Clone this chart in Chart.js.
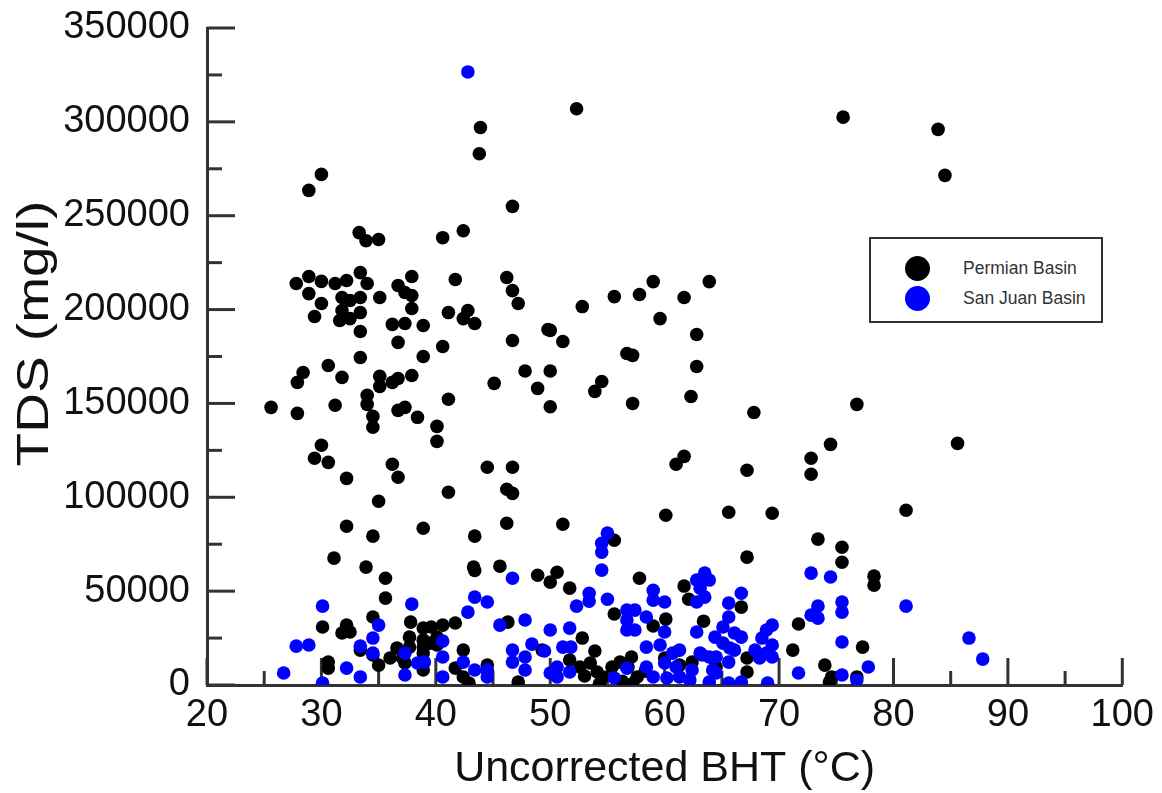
<!DOCTYPE html>
<html>
<head>
<meta charset="utf-8">
<script src="https://cdn.jsdelivr.net/npm/chart.js@4.4.1/dist/chart.umd.min.js"></script>
<style>
html,body{margin:0;padding:0;background:#fff;}
#wrap{position:relative;width:1162px;height:793px;}
#legend{position:absolute;left:869px;top:237px;width:230px;height:82px;border:2px solid #333;background:#fff;font-family:"Liberation Sans",Arial,sans-serif;font-size:17.5px;color:#333;}
.lg{position:absolute;left:0;display:flex;align-items:center;}
.lg .dot{width:25px;height:25px;border-radius:50%;margin-left:34px;margin-right:33px;}
</style>
</head>
<body>
<div id="wrap">
<canvas id="c" width="1162" height="793"></canvas>
<div id="legend">
  <div class="lg" style="top:17px"><div class="dot" style="background:#000"></div><span>Permian Basin</span></div>
  <div class="lg" style="top:47px"><div class="dot" style="background:#0000ff"></div><span>San Juan Basin</span></div>
</div>
</div>
<script>
// ── 데이터: [BHT °C, TDS mg/l] ──
const permianPoints=[
[52.3,307000],[43.9,297000],[43.8,283000],[28.9,263500],[30.0,272000],[46.7,255000],[75.6,302500],[83.9,296000],[84.5,271500],
[40.6,238300],[42.4,242000],[33.3,241000],[33.9,236700],[35.0,237300],
[27.8,213900],[28.9,217600],[30.0,215000],[28.9,208500],[30.0,203200],[29.4,196300],[31.2,213900],[32.2,215500],[33.4,219700],[34.0,213900],
[31.8,206400],[32.5,204800],[33.4,206400],[31.8,199500],[32.5,195200],[33.4,198400],[31.6,194200],[33.4,188300],[35.1,206400],[36.7,212800],
[37.9,217600],[37.3,209100],[37.9,207500],[37.9,200600],[36.2,192100],[37.3,192600],[38.9,191500],[41.7,216000],[46.2,217100],[46.7,210100],
[47.2,203200],[41.1,198400],[42.8,199500],[42.4,195200],[43.4,192600],[49.8,189400],[36.7,182500],[38.9,175000],[40.6,180300],[33.4,174500],
[46.7,183500],[28.4,166500],[27.9,161200],[30.6,170200],[31.8,163900],[35.1,164400],[35.1,159100],[36.2,161200],[36.7,163300],[37.9,164900],
[45.1,160700],[47.8,167300],[48.9,158000],[50.0,167300],[50.0,148200],
[25.6,147900],[27.9,144700],[31.2,149000],[34.0,154300],[34.0,149500],[34.5,143100],[34.5,137300],[36.7,146300],[37.3,147900],[38.4,142600],
[40.1,137800],[40.1,129800],[41.1,152200],[30.0,127700],[29.4,120800],[30.6,118600],[36.2,117600],[36.7,110700],[32.2,110100],[44.5,116000],
[46.7,116000],[46.2,104300],[46.7,102100],[41.1,102700],[35.0,97900],[32.2,84600],[38.9,83500],[46.2,86200],[34.5,79300],[43.4,79300],
[52.8,201600],[55.6,206900],[57.8,208000],[59.0,214900],[61.7,206400],[63.9,214900],[59.6,195200],[62.8,186700],[50.0,188900],[51.1,183000],
[56.7,176600],[57.2,175600],[62.8,169700],[54.5,161700],[53.9,156400],[57.2,150000],[62.3,153700],[67.8,145200],[61.7,121800],[61.0,117600],
[67.2,114400],[51.1,85600],[60.1,90400],[65.6,92000],[69.4,91500],
[76.8,149500],[74.5,128200],[72.8,120800],[72.8,112300],[81.1,93100],[85.6,128700],
[31.1,67600],[33.9,62800],[35.6,56900],[35.6,46300],[43.3,62800],[43.4,61000],[45.6,63300],[48.9,58500],[50.6,60100],[50.0,54800],
[51.7,51600],[55.6,77100],[57.8,56900],[61.7,52700],[62.1,45700],[55.6,37800],[46.3,33500],[59.0,31400],[60.1,35100],[63.4,34000],
[67.2,68100],[66.7,41500],[73.4,77700],[75.5,73400],[75.5,65400],[78.3,58000],[78.3,53200],[71.7,32500],
[30.1,30900],[32.2,31900],[31.8,27700],[32.5,28200],[34.5,36200],[37.8,33500],[38.9,30300],[39.6,30900],[40.6,31900],[41.7,33000],
[37.7,25500],[38.9,23900],[40.1,25500],[36.6,19700],[37.7,20200],[38.9,20200],[39.5,22300],[40.1,21300],[42.4,18600],[33.4,18600],
[34.5,16000],[35.0,10600],[30.6,12200],[30.6,9000],[36.0,14400],[37.1,14400],[37.3,11700],[38.9,8000],[38.9,17000],[41.7,9000],
[42.4,4300],[42.9,1100],[44.5,10600],[47.2,1600],
[52.8,25000],[53.9,18100],[49.3,18600],
[51.7,13300],[52.6,9600],[53.5,11700],[54.1,6900],[54.6,4300],[55.4,9600],[56.1,12200],[56.8,9600],[57.1,14900],[57.6,4300],
[53.0,4800],[56.3,2000],[58.3,7400],[54.3,600],[57.2,800],
[60.0,14400],[61.3,10600],[62.4,12200],[64.2,14400],[64.5,9600],
[67.2,14400],[67.2,6900],[71.2,18600],[77.3,20200],[74.0,10600],[74.6,4300],[76.8,4300],[74.4,1600]
];
const sanJuanPoints=[
[42.8,326600],
[26.7,6400],[27.8,20700],[28.9,21300],[30.1,42000],[30.1,1100],[32.2,9000],[33.4,20700],[33.4,4300],[34.5,25000],[34.5,17000],
[35.0,31900],[37.3,17000],[37.3,5300],[37.9,43100],[38.4,11700],[39.0,12200],[40.6,23400],[40.6,14900],[40.6,4300],[42.4,12200],
[42.8,38800],[43.4,46800],[44.5,44200],[43.4,8000],[44.5,8000],[44.5,4300],[45.6,31900],[46.7,56900],[46.7,18600],[46.7,12200],
[55.0,80900],[54.5,75500],[54.5,70800],[54.5,61200],[47.8,34600],[53.4,48900],[53.4,44700],[52.3,42000],[55.0,45700],[50.0,29300],
[51.7,30300],[48.4,21800],[49.5,18100],[51.1,20200],[51.8,20200],[47.8,14900],[47.8,8000],[50.6,9600],[50.6,4300],[50.0,6400],[51.7,6900],
[56.7,39900],[57.4,39900],[56.7,34600],[56.7,29300],[57.4,29300],[58.4,36200],[59.0,50500],[59.0,45200],[60.0,44200],[60.0,28200],
[59.6,21300],[58.4,20200],[55.6,3700],[56.7,9000],[58.4,9600],[59.0,4300],[60.0,11700],[60.7,17000],[61.3,18600],[61.0,9600],[61.3,4300],[60.2,3700],
[62.8,55900],[63.5,59600],[63.9,55900],[63.1,51600],[63.5,46800],[62.8,44200],[62.8,28200],[62.2,2700],[63.9,1600],[62.4,8000],
[63.1,17000],[64.2,8000],[63.9,14900],[64.4,25500],
[66.7,48900],[65.6,43600],[65.6,36200],[65.1,30900],[65.1,22300],[66.1,27700],[66.7,25500],[65.7,19700],[66.1,18600],[63.3,16000],
[64.5,14900],[64.5,6400],[65.6,12200],[65.6,1100],[66.7,1600],[69.0,1100],
[69.4,31900],[68.9,29300],[68.5,25000],[69.4,21300],[69.4,14900],[68.3,14400],[67.9,18600],[68.9,17000],
[72.8,59600],[74.5,57500],[73.4,42000],[72.8,37200],[73.4,35600],[75.5,44200],[75.5,38800],[75.5,22900],[71.7,6400],[75.5,5300],
[76.8,2700],[77.8,9600],[81.1,42000],[86.6,25000],[87.8,13800]
];
const xTicks=[20,30,40,50,60,70,80,90,100];
const yTicks=[0,50000,100000,150000,200000,250000,300000,350000];
const yTitle='TDS (mg/l)';

const FONT='"Liberation Sans", Arial, sans-serif';
const AX='#333';

// 안쪽으로 향하는 눈금 (major/minor)
const innerTicks={
  id:'innerTicks',
  beforeDatasetsDraw(chart){
    const {ctx,chartArea:a,scales:{x,y}}=chart;
    ctx.save();ctx.strokeStyle=AX;ctx.lineWidth=3;ctx.lineCap='butt';
    for(let v=xTicks[0];v<=xTicks[xTicks.length-1];v+=5){
      const px=x.getPixelForValue(v),len=v%10===0?27:14;
      ctx.beginPath();ctx.moveTo(px,a.bottom);ctx.lineTo(px,a.bottom-len);ctx.stroke();
    }
    for(let v=yTicks[0];v<=yTicks[yTicks.length-1];v+=25000){
      const py=y.getPixelForValue(v),len=v%50000===0?28:15;
      ctx.beginPath();ctx.moveTo(a.left,py);ctx.lineTo(a.left+len,py);ctx.stroke();
    }
    ctx.restore();
  }
};

// 세로축 제목 — 원본처럼 길이 방향으로 늘려서 그림
const stretchedYTitle={
  id:'stretchedYTitle',
  afterDraw(chart){
    const {ctx,chartArea:a}=chart;
    const cy=a.top+(a.bottom-a.top)*0.465;
    ctx.save();
    ctx.translate(36,cy);ctx.rotate(-Math.PI/2);ctx.scale(1.25,1);
    ctx.font='44px '+FONT;ctx.fillStyle='#111';ctx.textAlign='center';ctx.textBaseline='middle';
    ctx.fillText(yTitle,0,0);
    ctx.restore();
  }
};

new Chart(document.getElementById('c'),{
  type:'scatter',
  data:{datasets:[
    {label:'Permian Basin',data:permianPoints.map(p=>({x:p[0],y:p[1]})),backgroundColor:'#000',borderColor:'#000',borderWidth:0,pointRadius:6.8,order:2},
    {label:'San Juan Basin',data:sanJuanPoints.map(p=>({x:p[0],y:p[1]})),backgroundColor:'#0000ff',borderColor:'#0000ff',borderWidth:0,pointRadius:6.8,order:1}
  ]},
  options:{
    responsive:false,animation:false,
    layout:{padding:{top:0,right:39,left:0,bottom:0}},
    plugins:{legend:{display:false},tooltip:{enabled:false}},
    scales:{
      x:{type:'linear',min:20,max:100,
        afterBuildTicks:s=>{s.ticks=xTicks.map(v=>({value:v}));},
        afterFit:s=>{s.height=108;},
        ticks:{color:'#111',font:{family:FONT,size:38},padding:8,maxRotation:0},
        grid:{display:false,drawTicks:false},
        border:{display:true,color:AX,width:3},
        title:{display:true,text:'Uncorrected BHT (°C)',color:'#111',font:{family:FONT,size:43,lineHeight:1},padding:{top:0,bottom:2}}
      },
      y:{type:'linear',min:0,max:350000,
        afterBuildTicks:s=>{s.ticks=yTicks.map(v=>({value:v}));},
        afterFit:s=>{s.width=207;s.paddingTop=28;s.paddingBottom=0;},
        ticks:{color:'#111',font:{family:FONT,size:38},padding:17,callback:v=>String(v)},
        grid:{display:false,drawTicks:false},
        border:{display:true,color:AX,width:3},
        title:{display:false}
      }
    }
  },
  plugins:[innerTicks,stretchedYTitle]
});
</script>
</body>
</html>
